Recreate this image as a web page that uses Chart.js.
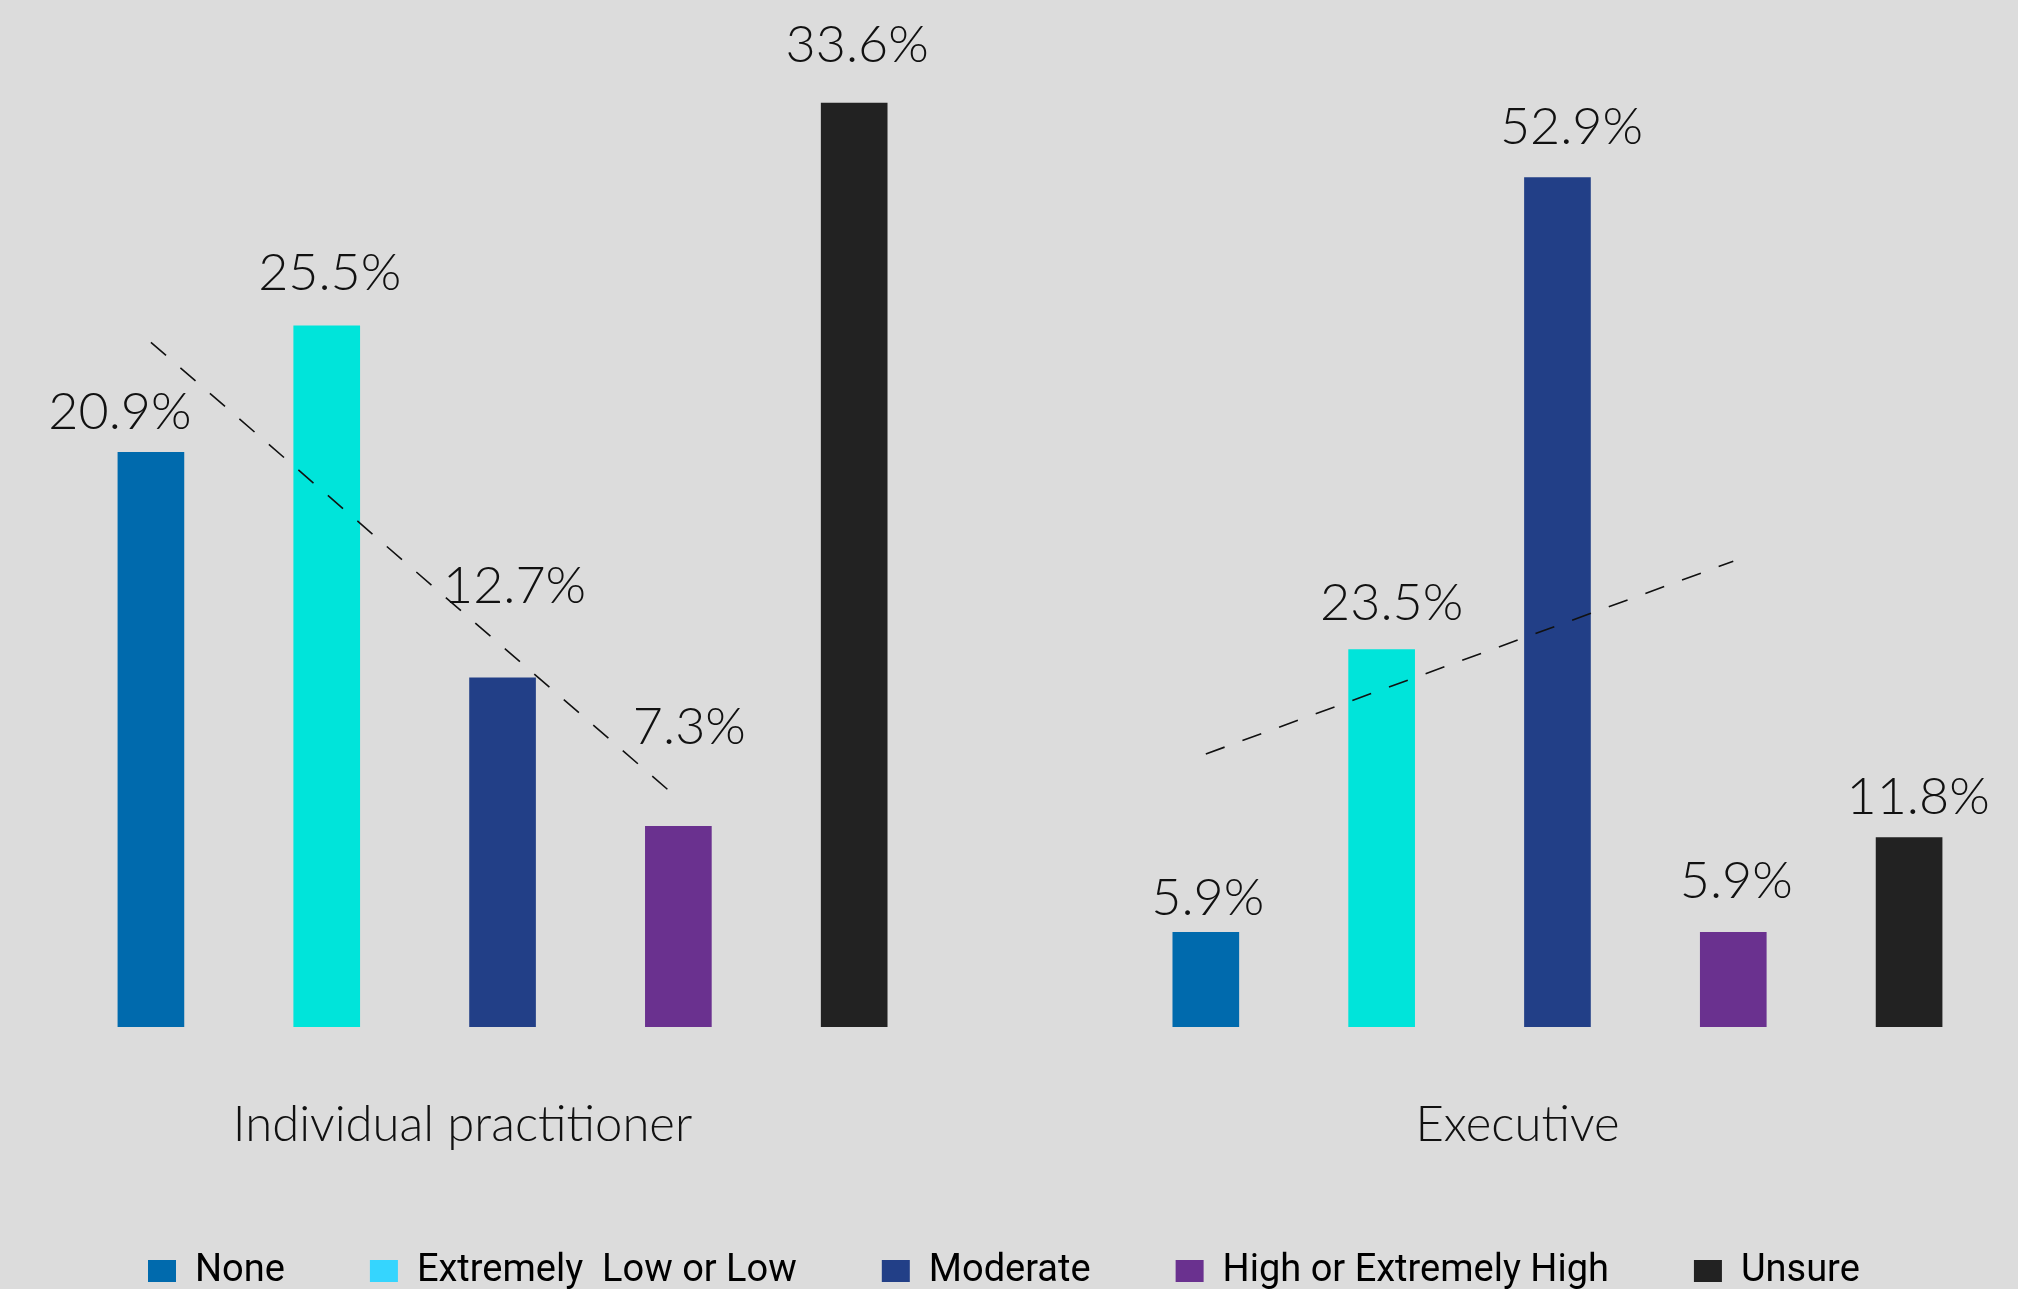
<!DOCTYPE html>
<html lang="en">

<head>
    <meta charset="UTF-8">
    <title>Perceived level by role</title>
    <style>
        html, body { margin: 0; padding: 0; background: #dcdcdc; overflow: hidden; }
        #wrap { position: relative; width: 2018px; height: 1300px; }
    </style>
</head>

<body>
    <div id="wrap">
        <canvas id="myChart"></canvas>
    </div>
    <script src="https://cdn.jsdelivr.net/npm/chart.js"></script>

    <script>
        // categories
        var levels = ['None', 'Extremely  Low or Low', 'Moderate', 'High or Extremely High', 'Unsure'];
        var roles = ['Individual practitioner', 'Executive'];

        // shares in %
        var practitionerShares = [20.9, 25.5, 12.7, 7.3, 33.6];
        var executiveShares = [5.9, 23.5, 52.9, 5.9, 11.8];

        // dashed trend, value at "None" and at "High or Extremely High"
        var practitionerTrend = [24.9, 8.3];
        var executiveTrend = [17.0, 29.0];

        var barColors = ['#006aad', '#00e4da', '#223f87', '#6a318f', '#222222'];
        var legendColors = ['#006aad', '#35d5fe', '#223f87', '#6a318f', '#222222'];

        // label nudges [dx, gap above bar]
        var practitionerNudge = [[-31, 23], [3, 36], [12, 75], [11, 82], [3, 41]];
        var executiveNudge = [[2, 17], [10, 30], [14, 33], [3, 34], [9, 23]];

        var thinFont = 'Lato';

        // one slot per level, an empty slot between the two roles
        var n = levels.length;
        var slots = [];
        roles.forEach(function (r, g) {
            levels.forEach(function (l) { slots.push(r + ' - ' + l); });
            if (g < roles.length - 1) slots.push('');
        });
        var midIndex = [Math.floor(n / 2), n + 1 + Math.floor(n / 2)];

        function pad(values, start) {
            var arr = slots.map(function () { return null; });
            values.forEach(function (v, i) { arr[start + i] = v; });
            return arr;
        }
        function trend(ends, start) {
            var arr = slots.map(function () { return null; });
            arr[start] = ends[0];
            arr[start + 3] = ends[1];
            return arr;
        }
        var colorSlots = barColors.concat(['transparent']).concat(barColors);

        var valueLabels = {
            id: 'valueLabels',
            afterDatasetsDraw: function (chart) {
                var ctx = chart.ctx;
                ctx.save();
                ctx.font = '300 52px ' + thinFont;
                ctx.fillStyle = '#111111';
                ctx.textAlign = 'center';
                ctx.textBaseline = 'alphabetic';
                [[2, practitionerNudge, 0], [3, executiveNudge, n + 1]].forEach(function (set) {
                    var meta = chart.getDatasetMeta(set[0]);
                    var values = chart.data.datasets[set[0]].data;
                    meta.data.forEach(function (bar, i) {
                        var v = values[i];
                        if (v == null) return;
                        var nudge = set[1][i - set[2]];
                        ctx.fillText(v.toFixed(1) + '%', bar.x + nudge[0], bar.y - nudge[1]);
                    });
                });
                ctx.restore();
            }
        };

        var mychart;
        mychart = new Chart(document.getElementById('myChart'), {
            type: 'bar',
            data: {
                labels: slots,
                datasets: [{
                    type: 'line',
                    data: trend(practitionerTrend, 0),
                    yAxisID: 'y',
                    borderColor: '#111111',
                    borderWidth: 1.6,
                    borderDash: [20, 19],
                    pointRadius: 0,
                    spanGaps: true
                }, {
                    type: 'line',
                    data: trend(executiveTrend, n + 1),
                    yAxisID: 'y2',
                    borderColor: '#111111',
                    borderWidth: 1.6,
                    borderDash: [20, 19],
                    pointRadius: 0,
                    spanGaps: true
                }, {
                    label: roles[0],
                    data: pad(practitionerShares, 0),
                    yAxisID: 'y',
                    backgroundColor: colorSlots,
                    barThickness: 66,
                    grouped: false
                }, {
                    label: roles[1],
                    data: pad(executiveShares, n + 1),
                    yAxisID: 'y2',
                    backgroundColor: colorSlots,
                    barThickness: 66,
                    grouped: false
                }]
            },
            options: {
                responsive: true,
                maintainAspectRatio: false,
                animation: false,
                layout: { padding: { left: 63, right: 21, top: 0, bottom: 0 } },
                scales: {
                    x: {
                        grid: { display: false },
                        border: { display: false },
                        afterFit: function (scale) { scale.height = 140; },
                        ticks: {
                            autoSkip: false,
                            maxRotation: 0,
                            minRotation: 0,
                            padding: 61,
                            labelOffset: -40,
                            color: '#111111',
                            font: { family: thinFont, size: 49, weight: 300 },
                            callback: function (value, index) {
                                var g = midIndex.indexOf(index);
                                return g >= 0 ? roles[g] : '';
                            }
                        }
                    },
                    y: { display: false, min: 0, max: 37.35 },
                    y2: { display: false, min: 0, max: 63.95 }
                },
                plugins: {
                    tooltip: { enabled: false },
                    legend: {
                        position: 'bottom',
                        align: 'start',
                        labels: {
                            boxWidth: 28,
                            boxHeight: 22,
                            padding: 85,
                            color: '#111111',
                            font: { family: 'Roboto', size: 38 },
                            generateLabels: function () {
                                return levels.map(function (t, i) {
                                    return {
                                        text: t,
                                        fillStyle: legendColors[i],
                                        strokeStyle: legendColors[i],
                                        lineWidth: 0,
                                        hidden: false,
                                        datasetIndex: 2
                                    };
                                });
                            }
                        }
                    }
                }
            },
            plugins: [valueLabels]
        });
    </script>
</body>

</html>
